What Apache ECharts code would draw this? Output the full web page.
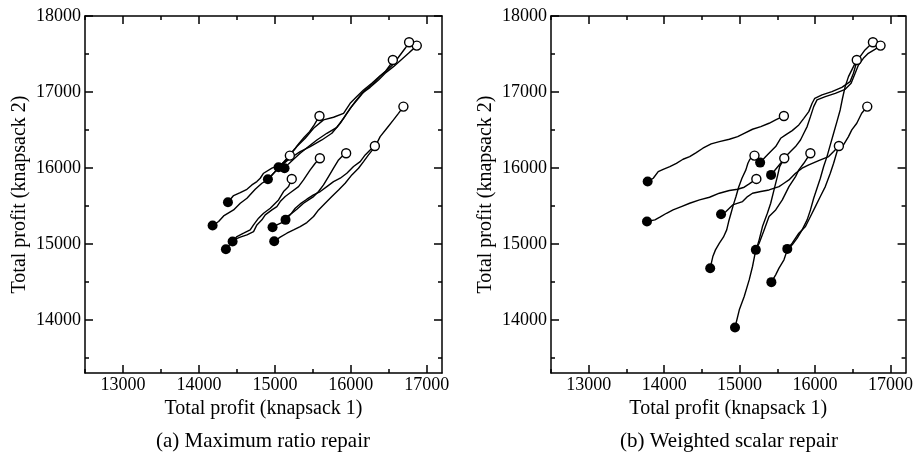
<!DOCTYPE html>
<html>
<head>
<meta charset="utf-8">
<title>Repair trajectories</title>
<script src="https://cdn.jsdelivr.net/npm/echarts@6/dist/echarts.min.js"></script>
<style>
  html, body { margin: 0; padding: 0; background: #fff; }
  #chart { width: 916px; height: 469px; }
</style>
</head>
<body>
<div id="chart"></div>
<script>
// tick values
const xTicks = [13000, 14000, 15000, 16000, 17000];
const xMinorTicks = [12500, 13500, 14500, 15500, 16500];
const yTicks = [14000, 15000, 16000, 17000, 18000];
const yMinorTicks = [13500, 14500, 15500, 16500, 17500];

// (a) maximum ratio repair, each run is [knapsack 1, knapsack 2] from start to end
const ratioRun1 = [[14382,15548],[14456,15636],[14544,15675],[14632,15719],[14697,15776],[14763,15820],[14807,15864],[14851,15930],[14961,15996],[15070,16039],[15123,16070],[15158,16105],[15197,16162]];
const ratioRun2 = [[14180,15241],[14259,15294],[14325,15368],[14456,15447],[14544,15535],[14632,15601],[14741,15719],[14829,15798],[14904,15842],[15004,15952],[15070,16018],[15202,16127],[15333,16215],[15465,16281],[15618,16368],[15750,16456],[15860,16588],[15947,16719],[16057,16873],[16145,16982],[16254,17061],[16364,17158],[16452,17246],[16561,17333],[16649,17412],[16759,17509],[16868,17610]];
const ratioRun3 = [[14443,15031],[14500,15096],[14588,15140],[14675,15184],[14719,15250],[14785,15338],[14851,15403],[14939,15469],[14982,15513],[15048,15579],[15114,15689],[15180,15754],[15222,15855]];
const ratioRun4 = [[14355,14930],[14456,15053],[14544,15088],[14632,15118],[14719,15162],[14763,15250],[14829,15316],[14873,15382],[14961,15447],[15026,15491],[15070,15557],[15136,15623],[15224,15689],[15311,15754],[15377,15842],[15465,15974],[15531,16061],[15592,16127]];
const ratioRun5 = [[14908,15851],[14961,15908],[15018,15965],[15079,16039],[15149,16114],[15211,16193],[15268,16259],[15325,16333],[15386,16403],[15456,16478],[15518,16566],[15587,16684]];
const ratioRun6 = [[15048,16009],[15114,16070],[15202,16171],[15289,16281],[15399,16390],[15509,16522],[15640,16632],[15772,16667],[15904,16719],[15991,16851],[16079,16939],[16167,17026],[16276,17114],[16364,17193],[16452,17268],[16518,17355],[16553,17421]];
const ratioRun7 = [[15127,15996],[15180,16053],[15246,16114],[15333,16193],[15443,16281],[15553,16368],[15684,16456],[15816,16535],[15904,16653],[15991,16785],[16101,16917],[16189,17026],[16298,17114],[16386,17211],[16474,17281],[16561,17368],[16649,17487],[16715,17575],[16767,17654]];
const ratioRun8 = [[14969,15219],[15026,15250],[15092,15281],[15158,15360],[15224,15403],[15289,15456],[15377,15535],[15443,15579],[15509,15623],[15575,15689],[15640,15776],[15706,15886],[15772,15996],[15838,16105],[15882,16149],[15938,16193]];
const ratioRun9 = [[15140,15316],[15202,15382],[15268,15469],[15333,15526],[15421,15588],[15509,15645],[15597,15689],[15684,15754],[15772,15820],[15860,15864],[15947,15930],[16035,16018],[16123,16083],[16189,16171],[16254,16237],[16316,16289]];
const ratioRun10 = [[14991,15035],[15070,15088],[15158,15140],[15246,15184],[15333,15228],[15421,15281],[15509,15360],[15575,15447],[15662,15535],[15750,15623],[15838,15710],[15925,15798],[16013,15908],[16101,15996],[16167,16083],[16232,16171],[16320,16281],[16386,16412],[16474,16522],[16561,16632],[16627,16719],[16692,16807]];

// (b) weighted scalar repair
const scalarRun1 = [[13781,15820],[13855,15864],[13921,15952],[13987,15982],[14075,16018],[14162,16061],[14250,16114],[14338,16149],[14425,16202],[14513,16259],[14623,16316],[14732,16346],[14864,16377],[14974,16412],[15061,16456],[15171,16509],[15281,16544],[15390,16588],[15478,16632],[15587,16684]];
const scalarRun2 = [[13772,15294],[13877,15316],[13943,15351],[14031,15403],[14118,15447],[14228,15491],[14338,15535],[14469,15579],[14601,15614],[14732,15667],[14864,15702],[14974,15719],[15061,15746],[15127,15789],[15171,15820],[15222,15855]];
const scalarRun3 = [[14754,15390],[14820,15425],[14864,15469],[14908,15513],[15039,15557],[15105,15623],[15171,15667],[15281,15689],[15390,15710],[15522,15754],[15588,15798],[15654,15842],[15741,15930],[15829,15996],[15917,16039],[16048,16096],[16180,16149],[16246,16215],[16316,16289]];
const scalarRun4 = [[14610,14680],[14645,14833],[14680,14921],[14732,15009],[14785,15088],[14829,15184],[14855,15294],[14886,15403],[14917,15513],[14952,15623],[14987,15746],[15031,15864],[15083,15974],[15110,16061],[15136,16114],[15197,16162]];
const scalarRun5 = [[14939,13899],[14996,14132],[15061,14307],[15127,14526],[15171,14702],[15206,14877],[15259,15053],[15303,15228],[15368,15403],[15412,15535],[15456,15710],[15500,15886],[15531,16018],[15592,16127]];
const scalarRun6 = [[15215,14921],[15259,15009],[15325,15184],[15390,15360],[15478,15447],[15566,15579],[15654,15754],[15741,15886],[15785,15974],[15851,16061],[15938,16193]];
const scalarRun7 = [[15272,16070],[15347,16149],[15412,16215],[15478,16281],[15544,16390],[15610,16434],[15697,16491],[15785,16566],[15851,16653],[15917,16741],[15961,16851],[15996,16917],[16092,16961],[16224,17004],[16355,17061],[16465,17136],[16509,17246],[16540,17355],[16597,17465],[16662,17553],[16767,17654]];
const scalarRun8 = [[15417,15908],[15478,15982],[15544,16061],[15610,16149],[15675,16215],[15741,16281],[15807,16368],[15851,16456],[15895,16544],[15939,16675],[15982,16807],[16026,16895],[16136,16939],[16268,16982],[16399,17035],[16478,17114],[16522,17224],[16575,17355],[16640,17443],[16706,17509],[16794,17561],[16868,17610]];
const scalarRun9 = [[15632,14934],[15697,15009],[15785,15140],[15873,15228],[15939,15360],[16004,15491],[16070,15623],[16136,15754],[16202,15930],[16246,16061],[16311,16281],[16377,16303],[16443,16412],[16487,16500],[16553,16588],[16618,16719],[16692,16807]];
const scalarRun10 = [[15421,14496],[15478,14592],[15522,14680],[15588,14790],[15632,14921],[15697,14987],[15763,15075],[15829,15184],[15895,15316],[15939,15447],[15982,15601],[16026,15732],[16070,15864],[16114,16018],[16158,16149],[16202,16303],[16246,16456],[16290,16610],[16333,16763],[16364,16917],[16399,17070],[16443,17202],[16509,17333],[16553,17421]];

const ratioRuns = [ratioRun1, ratioRun2, ratioRun3, ratioRun4, ratioRun5, ratioRun6, ratioRun7, ratioRun8, ratioRun9, ratioRun10];
const scalarRuns = [scalarRun1, scalarRun2, scalarRun3, scalarRun4, scalarRun5, scalarRun6, scalarRun7, scalarRun8, scalarRun9, scalarRun10];

const chart = echarts.init(document.getElementById('chart'));
const font = 'Liberation Serif';
const black = '#000';

const lineSt = { color: black, width: 1.5 };
const majorTick = (vals) => ({ inside: true, length: 8, customValues: vals, lineStyle: lineSt });
const minorTick = (vals) => ({ inside: true, length: 4, customValues: vals, lineStyle: lineSt });
const plain = (v) => String(v);

function xAxes(g) {
  const base = { gridIndex: g, type: 'value', min: 12500, max: 17200, splitLine: { show: false } };
  return [
    {
      ...base, position: 'bottom',
      axisLine: { lineStyle: lineSt },
      axisTick: majorTick(xTicks),
      axisLabel: { customValues: xTicks, formatter: plain, color: black, fontFamily: font, fontSize: 18, margin: 3 },
      name: 'Total profit (knapsack 1)', nameLocation: 'middle', nameGap: 19,
      nameTextStyle: { color: black, fontFamily: font, fontSize: 20 }
    },
    { ...base, position: 'top', axisLine: { lineStyle: lineSt }, axisTick: majorTick(xTicks), axisLabel: { show: false } },
    { ...base, position: 'bottom', axisLine: { show: false }, axisTick: minorTick(xMinorTicks), axisLabel: { show: false } },
    { ...base, position: 'top', axisLine: { show: false }, axisTick: minorTick(xMinorTicks), axisLabel: { show: false } }
  ];
}

function yAxes(g) {
  const base = { gridIndex: g, type: 'value', min: 13300, max: 18000, splitLine: { show: false } };
  return [
    {
      ...base, position: 'left',
      axisLine: { lineStyle: lineSt },
      axisTick: majorTick(yTicks),
      axisLabel: { customValues: yTicks, formatter: plain, color: black, fontFamily: font, fontSize: 18, margin: 4 },
      name: 'Total profit (knapsack 2)', nameLocation: 'middle', nameGap: 55,
      nameTextStyle: { color: black, fontFamily: font, fontSize: 20 }
    },
    { ...base, position: 'right', axisLine: { lineStyle: lineSt }, axisTick: majorTick(yTicks), axisLabel: { show: false } },
    { ...base, position: 'left', axisLine: { show: false }, axisTick: minorTick(yMinorTicks), axisLabel: { show: false } },
    { ...base, position: 'right', axisLine: { show: false }, axisTick: minorTick(yMinorTicks), axisLabel: { show: false } }
  ];
}

// lines plus filled start markers and open end markers for one panel
function panelSeries(runs, g) {
  const axisIdx = { xAxisIndex: g * 4, yAxisIndex: g * 4 };
  const out = runs.map(run => ({
    type: 'line', ...axisIdx, data: run, symbol: 'none',
    lineStyle: { color: black, width: 1.4 }, z: 2
  }));
  out.push({
    type: 'scatter', ...axisIdx, data: runs.map(r => r[0]), symbolSize: 10,
    itemStyle: { color: black, opacity: 1 }, z: 3
  });
  out.push({
    type: 'scatter', ...axisIdx, data: runs.map(r => r[r.length - 1]), symbolSize: 9,
    itemStyle: { color: '#fff', borderColor: black, borderWidth: 1.4, opacity: 1 }, z: 4
  });
  return out;
}

const captionStyle = (text) => ({
  text: text, font: '21px "Liberation Serif"', fill: black,
  textAlign: 'center', textVerticalAlign: 'middle', align: 'center', verticalAlign: 'middle'
});

chart.setOption({
  animation: false,
  grid: [
    { left: 85, top: 16, width: 357, height: 357 },
    { left: 551, top: 16, width: 356, height: 357 }
  ],
  xAxis: [...xAxes(0), ...xAxes(1)],
  yAxis: [...yAxes(0), ...yAxes(1)],
  series: [...panelSeries(ratioRuns, 0), ...panelSeries(scalarRuns, 1)],
  graphic: [
    { type: 'text', x: 263, y: 441, style: captionStyle('(a) Maximum ratio repair') },
    { type: 'text', x: 729, y: 441, style: captionStyle('(b) Weighted scalar repair') }
  ]
});

window.addEventListener('resize', function () {
  chart.resize();
});
</script>
</body>
</html>
